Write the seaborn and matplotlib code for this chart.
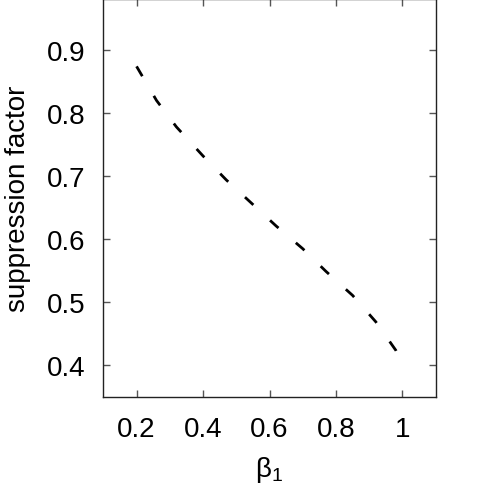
import numpy as np
import pandas as pd
import seaborn as sns
import matplotlib
matplotlib.use("Agg")
import matplotlib.pyplot as plt

# --------------------
# Data
# --------------------
beta1 = [0.20, 0.26, 0.32, 0.40, 0.47, 0.54, 0.62, 0.70, 0.77, 0.85, 0.92, 0.98, 1.00]
suppression = [0.874, 0.820, 0.778, 0.732, 0.694, 0.660, 0.621, 0.585, 0.549, 0.511, 0.469, 0.424, 0.400]

x_ticks = [0.2, 0.4, 0.6, 0.8, 1.0]
x_ticklabels = ["0.2", "0.4", "0.6", "0.8", "1"]
y_ticks = [0.4, 0.5, 0.6, 0.7, 0.8, 0.9]


def main():
    sns.set_theme(style="white")
    plt.rcParams["font.family"] = ["Liberation Sans", "DejaVu Sans"]
    plt.rcParams["mathtext.fontset"] = "custom"
    plt.rcParams["mathtext.rm"] = "Liberation Sans"
    plt.rcParams["mathtext.it"] = "Liberation Sans"
    plt.rcParams["mathtext.default"] = "regular"
    plt.rcParams["text.color"] = "black"
    plt.rcParams["axes.labelcolor"] = "black"
    plt.rcParams["xtick.color"] = "black"
    plt.rcParams["ytick.color"] = "black"

    df = pd.DataFrame({"beta1": beta1, "suppression": suppression})

    fig = plt.figure(figsize=(5.04, 4.85), dpi=100)
    ax = fig.add_axes([0.205, 0.1794, 0.6595, 0.8196])

    sns.lineplot(data=df, x="beta1", y="suppression", color="black",
                 linewidth=2, ax=ax, sort=False)
    line = ax.lines[0]
    line.set_dashes([4.1, 8.2])
    line.set_dash_capstyle("butt")

    ax.set_xlim(0.1, 1.1)
    ax.set_ylim(0.35, 0.98)
    ax.set_xticks(x_ticks)
    ax.set_xticklabels(x_ticklabels)
    ax.set_yticks(y_ticks)

    for side in ax.spines.values():
        side.set_color("#222222")
        side.set_linewidth(1.0)
        side.set_visible(True)

    ax.tick_params(axis="both", which="major", direction="in", length=5,
                   width=1, color="#555555", labelcolor="black", labelsize=20,
                   top=True, right=True, bottom=True, left=True)
    ax.tick_params(axis="x", pad=14)
    ax.tick_params(axis="y", pad=13)

    ax.set_xlabel(r"$\beta_1$", fontsize=20)
    ax.set_ylabel("suppression factor", fontsize=20)
    ax.xaxis.set_label_coords(0.5, -0.143)
    ax.yaxis.set_label_coords(-0.2175, 0.5)

    fig.savefig("out.png", dpi=100)
    plt.close(fig)


if __name__ == "__main__":
    main()
